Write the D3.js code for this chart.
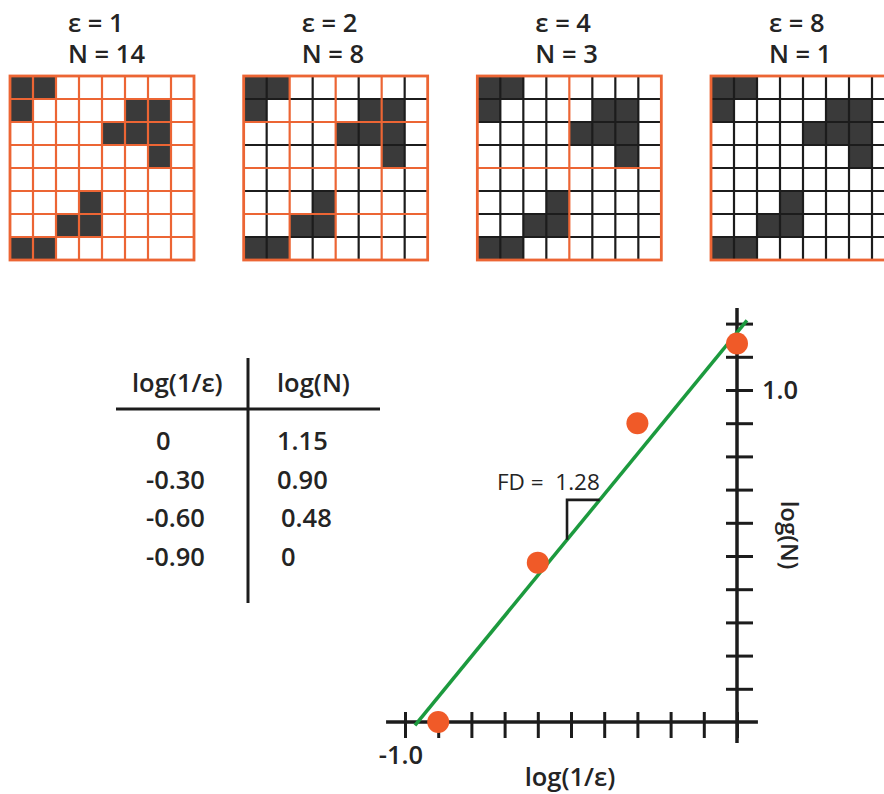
<!DOCTYPE html>
<html>
<head>
<meta charset="utf-8">
<script src="https://cdn.jsdelivr.net/npm/d3@7"></script>
<style>
  body { margin: 0; background: #fff; }
  text { font-family: 'Open Sans', 'Noto Sans', sans-serif; fill: #242424; }
</style>
</head>
<body>
<div id="chart"></div>
<script>
// box sizes and box counts for the four grids
const epsilons = [1, 2, 4, 8];
const boxCounts = [14, 8, 3, 1];
// filled cells of the 8x8 pattern, [row, col]
const darkCells = [
  [0, 0], [0, 1], [1, 0], [1, 5], [1, 6], [2, 4], [2, 5], [2, 6],
  [3, 6], [5, 3], [6, 2], [6, 3], [7, 0], [7, 1]
];

// table
const tableHeaders = ['log(1/ε)', 'log(N)'];
const colLogInvEps = ['0', '-0.30', '-0.60', '-0.90'];
const colLogN = ['1.15', '0.90', '0.48', '0'];

// plotted points
const pointX = [0, -0.30, -0.60, -0.90];
const pointY = [1.14, 0.90, 0.48, 0];

// fitted line end points
const fitX = [-0.97, 0.03];
const fitY = [-0.01, 1.21];
const fdLabel = 'FD =  1.28';
const slopeCorner = { x: -0.512, y: 0.669 };

const xTicks = d3.range(-1.0, 0.001, 0.1).map(d => +d.toFixed(1));
const yTicks = d3.range(0.1, 1.21, 0.1).map(d => +d.toFixed(1));
const xTickLabels = ['-1.0'];
const yTickLabels = ['1.0'];

const W = 884, H = 794;
const orange = '#ec6534', dark = '#3a3a3a', ink = '#1c1c1c';
const fs = '25.5px';

const svg = d3.select('#chart').append('svg')
  .attr('width', W).attr('height', H);
svg.append('rect').attr('width', W).attr('height', H).attr('fill', '#fff');

// ---------- grids ----------
const gridSize = 184;
const gridX = d3.scalePoint().domain(epsilons).range([10, 711]);
const cell = d3.scaleLinear().domain([0, 8]).range([0, gridSize]);
const gridTop = 76;

epsilons.forEach((eps, i) => {
  const g = svg.append('g').attr('transform', `translate(${gridX(eps)},${gridTop})`);

  g.append('rect').attr('width', gridSize).attr('height', gridSize).attr('fill', '#fff');

  g.selectAll('rect.cell')
    .data(darkCells)
    .enter()
    .append('rect')
    .attr('class', 'cell')
    .attr('x', d => cell(d[1]))
    .attr('y', d => cell(d[0]))
    .attr('width', cell(1))
    .attr('height', cell(1))
    .attr('fill', dark);

  const inner = d3.range(1, 8);
  const black = inner.filter(k => k % eps !== 0);
  const orng = inner.filter(k => k % eps === 0);

  [[black, ink], [orng, orange]].forEach(([lines, color]) => {
    g.selectAll(null).data(lines).enter().append('line')
      .attr('x1', d => cell(d)).attr('x2', d => cell(d))
      .attr('y1', 0).attr('y2', gridSize)
      .attr('stroke', color).attr('stroke-width', 2.2);
    g.selectAll(null).data(lines).enter().append('line')
      .attr('y1', d => cell(d)).attr('y2', d => cell(d))
      .attr('x1', 0).attr('x2', gridSize)
      .attr('stroke', color).attr('stroke-width', 2.2);
  });

  g.append('rect').attr('width', gridSize).attr('height', gridSize)
    .attr('fill', 'none').attr('stroke', orange).attr('stroke-width', 2.8);

  svg.append('text')
    .attr('x', gridX(eps) + 58).attr('y', 32)
    .style('font-size', fs).style('font-weight', 600)
    .text(`ε = ${eps}`);
  svg.append('text')
    .attr('x', gridX(eps) + 58).attr('y', 63)
    .style('font-size', fs).style('font-weight', 600)
    .text(`N = ${boxCounts[i]}`);
});

// ---------- table ----------
const table = svg.append('g');
table.append('line').attr('x1', 116).attr('x2', 380).attr('y1', 409).attr('y2', 409)
  .attr('stroke', ink).attr('stroke-width', 3);
table.append('line').attr('x1', 248).attr('x2', 248).attr('y1', 358).attr('y2', 603)
  .attr('stroke', ink).attr('stroke-width', 3);

table.selectAll('text.head')
  .data(tableHeaders)
  .enter()
  .append('text')
  .attr('x', (d, i) => (i === 0 ? 132 : 277))
  .attr('y', 392)
  .style('font-size', fs).style('font-weight', 600)
  .text(d => d);

const rowY = d3.scalePoint().domain(d3.range(colLogInvEps.length)).range([450, 566]);

table.selectAll('text.c1')
  .data(colLogInvEps)
  .enter()
  .append('text')
  .attr('x', d => (d === '0' ? 156 : 146))
  .attr('y', (d, i) => rowY(i))
  .style('font-size', fs).style('font-weight', 600)
  .text(d => d);

table.selectAll('text.c2')
  .data(colLogN)
  .enter()
  .append('text')
  .attr('x', (d, i) => (i >= 2 ? 281 : 277))
  .attr('y', (d, i) => rowY(i))
  .style('font-size', fs).style('font-weight', 600)
  .text(d => d);

// ---------- plot ----------
const xScale = d3.scaleLinear().domain([-1, 0]).range([405, 737]);
const yScale = d3.scaleLinear().domain([0, 1]).range([722, 390]);

const xAxis = svg.append('g')
  .attr('transform', `translate(0,${yScale(0)})`)
  .call(d3.axisBottom(xScale).tickValues(xTicks).tickFormat('').tickSizeOuter(0));
xAxis.select('.domain').remove();
xAxis.selectAll('.tick line')
  .attr('y1', -10).attr('y2', 16)
  .attr('stroke', ink).attr('stroke-width', 3);
xAxis.append('line')
  .attr('x1', xScale(-1.057)).attr('x2', xScale(0.063))
  .attr('stroke', ink).attr('stroke-width', 3.5);

const yAxis = svg.append('g')
  .attr('transform', `translate(${xScale(0)},0)`)
  .call(d3.axisRight(yScale).tickValues(yTicks).tickFormat('').tickSizeOuter(0));
yAxis.select('.domain').remove();
yAxis.selectAll('.tick line')
  .attr('x1', -11).attr('x2', 16)
  .attr('stroke', ink).attr('stroke-width', 3);
yAxis.append('line')
  .attr('y1', yScale(1.247)).attr('y2', yScale(-0.063))
  .attr('stroke', ink).attr('stroke-width', 3.5);

svg.selectAll('text.xlab')
  .data(xTickLabels)
  .enter()
  .append('text')
  .attr('x', d => xScale(+d) - 4)
  .attr('y', 764)
  .attr('text-anchor', 'middle')
  .style('font-size', fs).style('font-weight', 600)
  .text(d => d);

svg.selectAll('text.ylab')
  .data(yTickLabels)
  .enter()
  .append('text')
  .attr('x', xScale(0) + 25)
  .attr('y', d => yScale(+d) + 9)
  .style('font-size', fs).style('font-weight', 600)
  .text(d => d);

svg.append('text')
  .attr('x', 570).attr('y', 786)
  .attr('text-anchor', 'middle')
  .style('font-size', fs).style('font-weight', 600)
  .text('log(1/ε)');

svg.append('text')
  .attr('transform', `translate(781,535) rotate(90)`)
  .attr('text-anchor', 'middle')
  .style('font-size', '24px').style('font-weight', 600)
  .text('log(N)');

// fitted line
const fitData = fitX.map((x, i) => ({ x, y: fitY[i] }));
svg.append('path')
  .datum(fitData)
  .attr('fill', 'none')
  .attr('stroke', '#1c9a3e')
  .attr('stroke-width', 3.5)
  .attr('d', d3.line().x(d => xScale(d.x)).y(d => yScale(d.y)));

// slope marker
const slope = (fitY[1] - fitY[0]) / (fitX[1] - fitX[0]);
const lineYAt = x => fitY[0] + slope * (x - fitX[0]);
const lineXAt = y => fitX[0] + (y - fitY[0]) / slope;
svg.append('path')
  .attr('fill', 'none')
  .attr('stroke', ink)
  .attr('stroke-width', 2.6)
  .attr('d', d3.line()([
    [xScale(slopeCorner.x), yScale(lineYAt(slopeCorner.x))],
    [xScale(slopeCorner.x), yScale(slopeCorner.y)],
    [xScale(lineXAt(slopeCorner.y)), yScale(slopeCorner.y)]
  ]));

svg.append('text')
  .attr('x', 497).attr('y', 490)
  .style('font-size', '22.5px')
  .style('white-space', 'pre')
  .text(fdLabel);

// points
const points = pointX.map((x, i) => ({ x, y: pointY[i] }));
svg.selectAll('circle.pt')
  .data(points)
  .enter()
  .append('circle')
  .attr('class', 'pt')
  .attr('cx', d => xScale(d.x))
  .attr('cy', d => yScale(d.y))
  .attr('r', 11)
  .attr('fill', '#f05a28');
</script>
</body>
</html>
